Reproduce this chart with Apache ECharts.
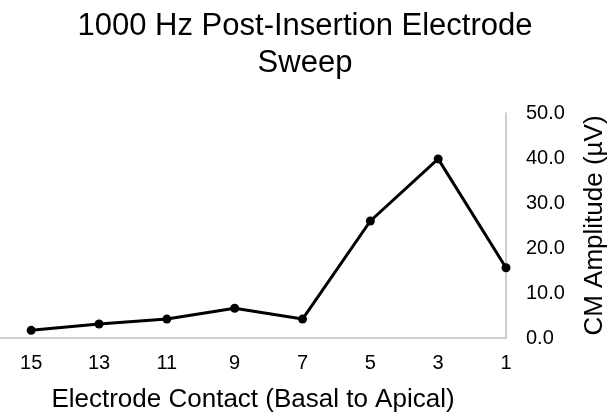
<!DOCTYPE html>
<html>
<head>
<meta charset="utf-8">
<script src="https://cdn.jsdelivr.net/npm/echarts@6/dist/echarts.min.js"></script>
<style>
html,body{margin:0;padding:0;background:#fff;}
#chart{width:616px;height:418px;}
</style>
</head>
<body>
<div id="chart"></div>
<script>
var categories = ['15', '13', '11', '9', '7', '5', '3', '1'];
var amplitudes = [1.7, 3.1, 4.2, 6.6, 4.2, 26.0, 39.8, 15.6];
var yTicks = [0, 10, 20, 30, 40, 50];

var chart = echarts.init(document.getElementById('chart'));
var FONT = '"Liberation Sans", Arial, sans-serif';
var seriesData = categories.map(function (c, i) { return [i, amplitudes[i]]; });
var catIdx = categories.map(function (c, i) { return i; });

chart.setOption({
  animation: false,
  backgroundColor: '#ffffff',
  title: {
    text: '1000 Hz Post-Insertion Electrode\nSweep',
    left: 300,
    textAlign: 'center',
    top: 3,
    textStyle: { fontFamily: FONT, fontSize: 31, fontWeight: 'normal', color: '#000', lineHeight: 37 }
  },
  grid: { left: 0, right: 102, top: 113, bottom: 77, containLabel: false },
  xAxis: {
    type: 'value',
    min: -0.46,
    max: 7,
    name: 'Electrode Contact (Basal to Apical)',
    nameLocation: 'middle',
    nameGap: 49,
    nameTextStyle: { fontFamily: FONT, fontSize: 26, color: '#000' },
    axisLine: { show: true, onZero: false, lineStyle: { color: '#bfbfbf', width: 1.5 } },
    axisTick: { show: false },
    splitLine: { show: false },
    axisLabel: {
      customValues: catIdx,
      formatter: function (v) { return categories[Math.round(v)]; },
      fontFamily: FONT, fontSize: 20, color: '#000', margin: 15
    }
  },
  yAxis: {
    type: 'value',
    position: 'right',
    min: 0,
    max: 50,
    interval: 10,
    name: 'CM Amplitude (µV)',
    nameLocation: 'middle',
    nameRotate: 90,
    nameGap: 76,
    nameTextStyle: { fontFamily: FONT, fontSize: 26, color: '#000' },
    axisLine: { show: true, onZero: false, lineStyle: { color: '#bfbfbf', width: 1.5 } },
    axisTick: { show: false },
    splitLine: { show: false },
    axisLabel: {
      formatter: function (v) { return v.toFixed(1); },
      fontFamily: FONT, fontSize: 20, color: '#000', margin: 20
    }
  },
  series: [{
    type: 'line',
    data: seriesData,
    symbol: 'circle',
    symbolSize: 9,
    clip: false,
    lineStyle: { color: '#000', width: 3 },
    itemStyle: { color: '#000' },
    z: 5
  }]
});
</script>
</body>
</html>
